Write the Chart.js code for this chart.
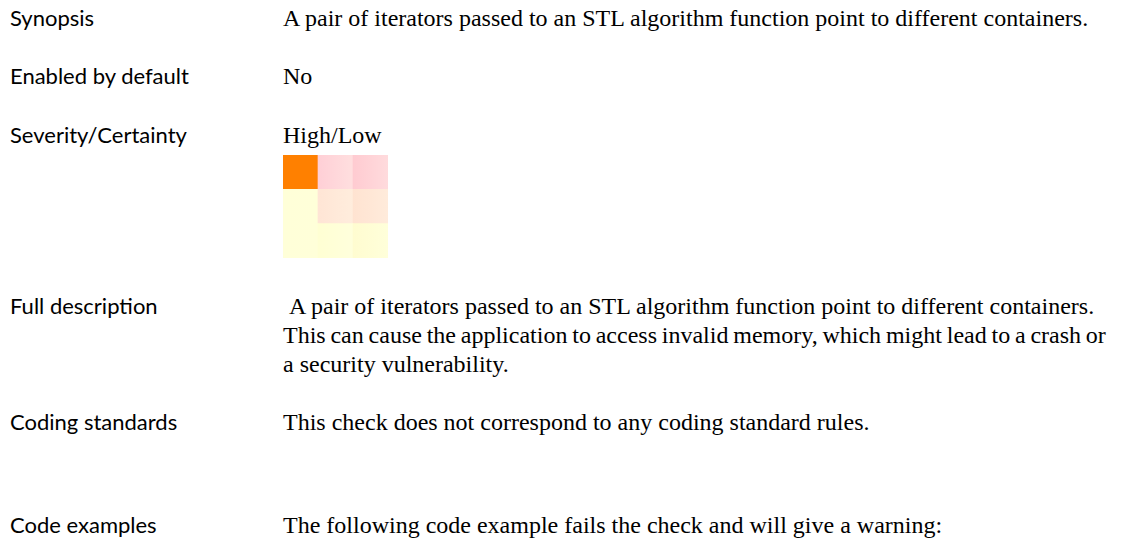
<!DOCTYPE html>
<html>
<head>
<meta charset="utf-8">
<script src="https://cdn.jsdelivr.net/npm/chart.js@4.4.1/dist/chart.umd.min.js"></script>
<style>
  html, body { margin: 0; padding: 0; background: #ffffff; }
  body { width: 1127px; height: 540px; position: relative; overflow: hidden; }
  .row { position: absolute; left: 10px; display: flex; align-items: baseline; color: #000; }
  .lab { width: 273px; font-family: "Lato", "DejaVu Sans", sans-serif; font-size: 22px; line-height: 29px; }
  .val { font-family: "Liberation Serif", "DejaVu Serif", serif; font-size: 24px; line-height: 29px; white-space: nowrap; }
  .tight { word-spacing: -1.2px; }
  #heat { position: absolute; left: 283px; top: 155px; }
</style>
</head>
<body>
<div class="row" style="top:2.5px"><div class="lab">Synopsis</div><div class="val">A pair of iterators passed to an STL algorithm function point to different containers.</div></div>
<div class="row" style="top:61px"><div class="lab">Enabled by default</div><div class="val">No</div></div>
<div class="row" style="top:120px"><div class="lab">Severity/Certainty</div><div class="val">High/Low</div></div>
<div class="row" style="top:291px"><div class="lab">Full description</div><div class="val">&nbsp;A pair of iterators passed to an STL algorithm function point to different containers.<br><span class="tight">This can cause the application to access invalid memory, which might lead to a crash or</span><br>a security vulnerability.</div></div>
<div class="row" style="top:407px"><div class="lab">Coding standards</div><div class="val">This check does not correspond to any coding standard rules.</div></div>
<div class="row" style="top:510px"><div class="lab">Code examples</div><div class="val">The following code example fails the check and will give a warning:</div></div>

<canvas id="heat" width="105" height="103"></canvas>

<script>
// Columns: certainty; stacked rows: severity (bottom to top)
const certaintyLevels = ['Low', 'Medium', 'High'];
const severityLevels = ['Low', 'Medium', 'High'];
const cellLow = [1, 1, 1];
const cellMedium = [1, 1, 1];
const cellHigh = [1, 1, 1];
// left/right shade of each cell, per severity row
const colorsLowLeft = ['#FFFFD8', '#FFFFD3', '#FFFCD0'];
const colorsLowRight = ['#FFFFD9', '#FFFFDC', '#FFFFDA'];
const colorsMediumLeft = ['#FFFFD8', '#FFE5D5', '#FFE3D1'];
const colorsMediumRight = ['#FFFFD9', '#FFEDDD', '#FFEBDB'];
const colorsHighLeft = ['#FF8000', '#FFCFD6', '#FFCBD1'];
const colorsHighRight = ['#FF8000', '#FFDFDF', '#FFDBDD'];

function shade(lefts, rights) {
  return function (ctx) {
    const chart = ctx.chart;
    const i = ctx.dataIndex;
    const xs = chart.scales && chart.scales.x;
    if (!xs || !chart.chartArea || i === undefined) return lefts[i] || lefts[0];
    const w = (chart.chartArea.right - chart.chartArea.left) / certaintyLevels.length;
    const cx = xs.getPixelForValue(i);
    const g = chart.ctx.createLinearGradient(cx - w / 2, 0, cx + w / 2, 0);
    g.addColorStop(0, lefts[i]);
    g.addColorStop(1, rights[i]);
    return g;
  };
}

const barCommon = { borderWidth: 0, borderSkipped: false, categoryPercentage: 1, barPercentage: 1 };

new Chart(document.getElementById('heat'), {
  type: 'bar',
  data: {
    labels: certaintyLevels,
    datasets: [
      Object.assign({ label: severityLevels[0], data: cellLow, backgroundColor: shade(colorsLowLeft, colorsLowRight) }, barCommon),
      Object.assign({ label: severityLevels[1], data: cellMedium, backgroundColor: shade(colorsMediumLeft, colorsMediumRight) }, barCommon),
      Object.assign({ label: severityLevels[2], data: cellHigh, backgroundColor: shade(colorsHighLeft, colorsHighRight) }, barCommon)
    ]
  },
  options: {
    responsive: false,
    maintainAspectRatio: false,
    devicePixelRatio: 1,
    animation: false,
    layout: { padding: 0 },
    plugins: { legend: { display: false }, tooltip: { enabled: false }, title: { display: false } },
    scales: {
      x: { stacked: true, display: false, offset: true, grid: { display: false } },
      y: { stacked: true, display: false, min: 0, max: 3, grid: { display: false } }
    }
  }
});
</script>
</body>
</html>
